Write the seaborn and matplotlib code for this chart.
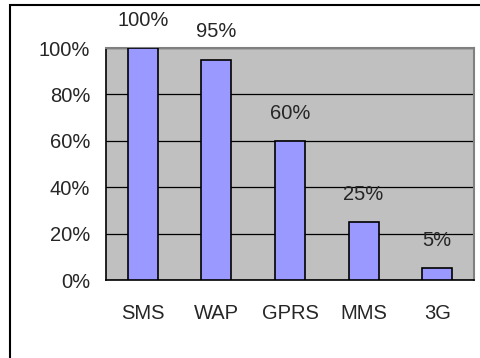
import matplotlib
matplotlib.use("Agg")
import matplotlib.pyplot as plt
from matplotlib.patches import Rectangle
from matplotlib.ticker import FixedLocator
import seaborn as sns
import pandas as pd

categories = ["SMS", "WAP", "GPRS", "MMS", "3G"]
values = [1.00, 0.95, 0.60, 0.25, 0.05]
value_labels = ["100%", "95%", "60%", "25%", "5%"]
y_ticks = [0.0, 0.2, 0.4, 0.6, 0.8, 1.0]
y_tick_labels = ["0%", "20%", "40%", "60%", "80%", "100%"]

sns.set_style("white")
plt.rcParams["font.family"] = ["Liberation Sans", "DejaVu Sans"]

FS = 14.5

df = pd.DataFrame({"service": categories, "share": values})

fig = plt.figure(figsize=(4.8, 3.58), dpi=100)
ax = fig.add_axes([106 / 480, 1 - 280 / 358, (474 - 106) / 480, (280 - 48) / 358])

sns.barplot(data=df, x="service", y="share", ax=ax, color="#9999FF",
            saturation=1, width=0.41, edgecolor="black", linewidth=1.2,
            zorder=3)

ax.set_facecolor("#C0C0C0")
ax.set_xlim(-0.5, len(categories) - 0.5)
ax.set_ylim(0, 1)
ax.set_xlabel("")
ax.set_ylabel("")

ax.set_yticks(y_ticks)
ax.set_yticklabels(y_tick_labels, fontsize=FS)
ax.yaxis.grid(True, color="black", linewidth=0.9, zorder=1)
ax.set_axisbelow(True)

ax.set_xticks(range(len(categories)))
ax.set_xticklabels(categories, fontsize=FS)
ax.tick_params(axis="x", length=0, pad=17)
ax.xaxis.set_minor_locator(FixedLocator([i - 0.5 for i in range(len(categories) + 1)]))
ax.tick_params(axis="x", which="minor", length=4.5, width=1, color="black", direction="out")
ax.tick_params(axis="y", length=4.5, width=1, color="black", direction="out", pad=7)

for side in ("left", "bottom"):
    ax.spines[side].set_color("black")
    ax.spines[side].set_linewidth(1.2)
for side in ("top", "right"):
    ax.spines[side].set_color("#808080")
    ax.spines[side].set_linewidth(1.5)

for i, (v, lab) in enumerate(zip(values, value_labels)):
    ax.annotate(lab, xy=(i, v), xytext=(0, 20), textcoords="offset points",
                ha="center", va="center", fontsize=FS, annotation_clip=False)

fig.patches.append(Rectangle((10 / 480, -0.05), 1.2, 1 - 5 / 358 + 0.05,
                             transform=fig.transFigure, fill=False,
                             edgecolor="black", linewidth=1.5))

fig.savefig("out.png", dpi=100)
